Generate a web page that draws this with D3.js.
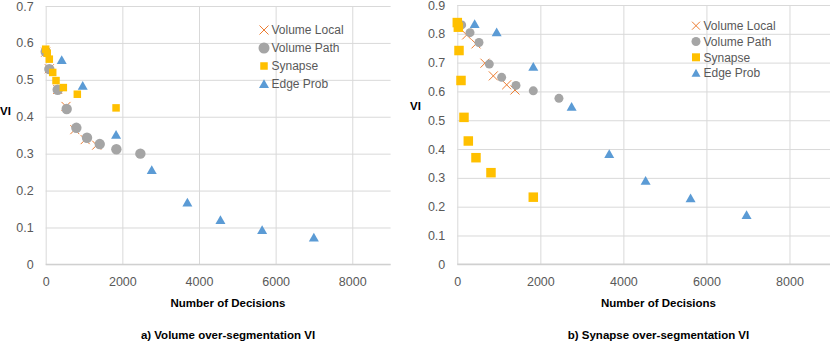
<!DOCTYPE html>
<html>
<head>
<meta charset="utf-8">
<script src="https://cdn.jsdelivr.net/npm/d3@7"></script>
<style>
  body { margin: 0; background: #fff; }
  svg { display: block; font-family: "Liberation Sans", Arial, sans-serif; }
  .tick text { fill: #595959; font-size: 12.5px; }
  .lab { font-weight: bold; font-size: 11.5px; fill: #000; }
  .leg { fill: #595959; font-size: 12px; }
</style>
</head>
<body>
<svg id="chart" width="830" height="346"></svg>
<script>
// tick values
const xTicks = [0, 2000, 4000, 6000, 8000];
const yTicksA = [0, 0.1, 0.2, 0.3, 0.4, 0.5, 0.6, 0.7];
const yTicksB = [0, 0.1, 0.2, 0.3, 0.4, 0.5, 0.6, 0.7, 0.8, 0.9];
const seriesNames = ["Volume Local", "Volume Path", "Synapse", "Edge Prob"];

// a) volume over-segmentation
const volLocalA = [[0, 0.575], [95, 0.53], [313, 0.474], [530, 0.428], [760, 0.365], [1030, 0.338], [1330, 0.323]];
const volPathA = [[0, 0.576], [95, 0.529], [313, 0.473], [548, 0.421], [800, 0.370], [1078, 0.343], [1410, 0.326], [1844, 0.312], [2470, 0.300]];
const synapseA = [[0, 0.583], [40, 0.572], [94, 0.556], [183, 0.520], [269, 0.498], [460, 0.479], [825, 0.461], [1836, 0.424]];
const edgeProbA = [[418, 0.554], [966, 0.484], [1836, 0.351], [2767, 0.256], [3697, 0.168], [4560, 0.120], [5648, 0.093], [6997, 0.073]];

// b) synapse over-segmentation
const volLocalB = [[226, 0.796], [450, 0.765], [666, 0.698], [867, 0.654], [1189, 0.623], [1389, 0.605]];
const volPathB = [[105, 0.831], [306, 0.804], [522, 0.770], [771, 0.695], [1068, 0.649], [1413, 0.621], [1830, 0.602], [2448, 0.576]];
const synapseB = [[0, 0.839], [25, 0.823], [41, 0.742], [89, 0.638], [161, 0.510], [265, 0.428], [450, 0.370], [811, 0.318], [1830, 0.233]];
const edgeProbB = [[418, 0.834], [948, 0.805], [1830, 0.686], [2753, 0.547], [3659, 0.383], [4535, 0.290], [5618, 0.229], [6966, 0.171]];

const colors = ["#ED7D31", "#A5A5A5", "#FFC000", "#5B9BD5"];

const svg = d3.select('#chart');

function drawMark(g, i, size) {
  if (i == 0) {
    const h = size.x / 2;
    g.append('path').attr('d', `M${-h},${-h}L${h},${h}M${-h},${h}L${h},${-h}`)
      .attr('stroke', colors[0]).attr('stroke-width', 1).attr('fill', 'none');
  } else if (i == 1) {
    g.append('circle').attr('r', size.r).attr('fill', colors[1]);
  } else if (i == 2) {
    g.append('rect').attr('x', -size.s / 2).attr('y', -size.s / 2)
      .attr('width', size.s).attr('height', size.s).attr('fill', colors[2]);
  } else {
    const w = size.t / 2;
    g.append('path').attr('d', `M0,${-w * 0.95}L${w},${w * 0.8}L${-w},${w * 0.8}Z`).attr('fill', colors[3]);
  }
}

function chart(cfg) {
  const x = d3.scaleLinear().domain([0, 9000]).range([cfg.x0, cfg.x1]);
  const y = d3.scaleLinear().domain([0, cfg.yMax]).range([cfg.y0, cfg.y1]);
  const g = svg.append('g');

  // horizontal gridlines + y labels
  g.append('g')
      .attr('transform', 'translate(' + cfg.x0 + ',0)')
      .call(d3.axisLeft(y).tickValues(cfg.yTicks).tickSize(-(cfg.x1 - cfg.x0)).tickPadding(12)
        .tickFormat(d => d == 0 ? "0" : d3.format(".1f")(d)))
      .call(a => a.select('.domain').remove())
      .call(a => a.selectAll('line').attr('stroke', '#d9d9d9'));

  // vertical gridlines + x labels
  g.append('g')
      .attr('transform', 'translate(0,' + cfg.y0 + ')')
      .call(d3.axisBottom(x).tickValues(xTicks).tickSize(-(cfg.y0 - cfg.y1)).tickPadding(13).tickFormat(d3.format("d")))
      .call(a => a.select('.domain').remove())
      .call(a => a.selectAll('line').attr('stroke', '#d9d9d9'));

  g.append('line')
      .attr('x1', cfg.x0).attr('x2', cfg.x1).attr('y1', cfg.y0).attr('y2', cfg.y0)
      .attr('stroke', '#d0d0d0').attr('stroke-width', 1.4);

  // points
  cfg.series.forEach(function(data, i) {
    data.forEach(function(d) {
      const m = g.append('g').attr('transform', 'translate(' + x(d[0]) + ',' + y(d[1]) + ')');
      drawMark(m, i, cfg.size);
    });
  });

  // legend
  seriesNames.forEach(function(name, i) {
    const ly = cfg.legY + i * cfg.legStep;
    const m = g.append('g').attr('transform', 'translate(' + cfg.legX + ',' + ly + ')');
    drawMark(m, i, cfg.legSize);
    g.append('text').attr('class', 'leg')
      .attr('x', cfg.legX + 7.5).attr('y', ly + 4.3).text(name);
  });

  // axis titles
  g.append('text').attr('class', 'lab').attr('x', cfg.viX).attr('y', cfg.viY).text('VI');
  g.append('text').attr('class', 'lab').attr('text-anchor', 'middle')
      .attr('x', cfg.titleX).attr('y', 306.5).text('Number of Decisions');
  g.append('text').attr('class', 'lab').attr('text-anchor', 'middle')
      .attr('x', cfg.titleX).attr('y', 339).text(cfg.caption);
}

chart({
  x0: 45.7, x1: 390.6, y0: 264.4, y1: 6, yMax: 0.7, yTicks: yTicksA,
  series: [volLocalA, volPathA, synapseA, edgeProbA],
  size: {x: 9, r: 5.2, s: 7.5, t: 10},
  legSize: {x: 9, r: 5.5, s: 7.5, t: 10},
  legX: 264, legY: 30, legStep: 18,
  viX: 0, viY: 114.5, titleX: 228, caption: 'a) Volume over-segmentation VI'
});

chart({
  x0: 457.3, x1: 831, y0: 264.3, y1: 5, yMax: 0.9, yTicks: yTicksB,
  series: [volLocalB, volPathB, synapseB, edgeProbB],
  size: {x: 9, r: 4.5, s: 9.5, t: 10},
  legSize: {x: 8, r: 4.5, s: 8, t: 9},
  legX: 696, legY: 25.7, legStep: 15.8,
  viX: 410, viY: 110, titleX: 658.5, caption: 'b) Synapse over-segmentation VI'
});
</script>
</body>
</html>
